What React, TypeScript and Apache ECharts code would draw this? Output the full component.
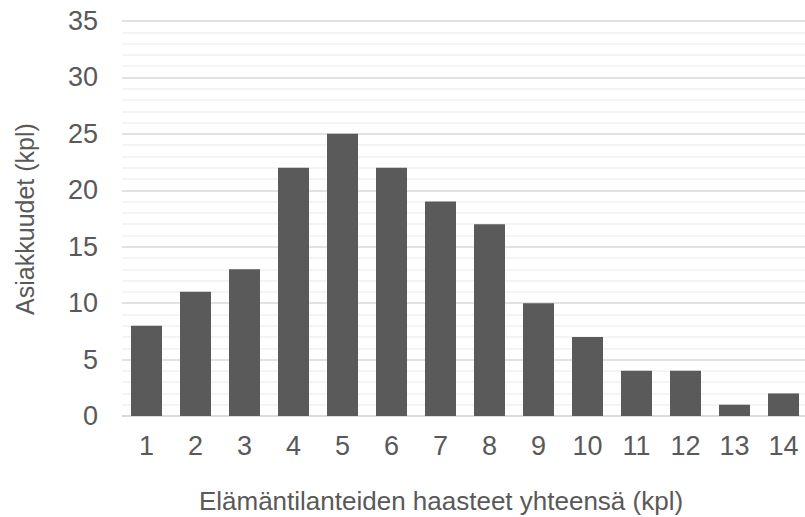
import React, { useEffect, useRef } from "react";
import * as echarts from "echarts";

const categories = ["1", "2", "3", "4", "5", "6", "7", "8", "9", "10", "11", "12", "13", "14"];
const values = [8, 11, 13, 22, 25, 22, 19, 17, 10, 7, 4, 4, 1, 2];
const yTitle = "Asiakkuudet (kpl)";
const xTitle = "Elämäntilanteiden haasteet yhteensä (kpl)";

const FONT = "'Liberation Sans', Arial, sans-serif";
const TEXT = "#595959";

export default function App() {
  const ref = useRef<HTMLDivElement>(null);
  useEffect(() => {
    if (!ref.current) return;
    const chart = echarts.init(ref.current, undefined, { renderer: "svg" });
    chart.setOption({
      animation: false,
      backgroundColor: "#ffffff",
      grid: { left: 122, top: 21, width: 686, height: 395, containLabel: false, outerBoundsMode: "none" },
      xAxis: {
        type: "category",
        data: categories,
        axisTick: { show: false },
        axisLine: { lineStyle: { color: "#d9d9d9", width: 1.5 } },
        axisLabel: { color: TEXT, fontSize: 27, fontFamily: FONT, margin: 16 },
      },
      yAxis: {
        type: "value",
        min: 0,
        max: 35,
        interval: 5,
        axisLine: { show: false },
        axisTick: { show: false },
        axisLabel: { color: TEXT, fontSize: 27, fontFamily: FONT, margin: 24 },
        splitLine: { lineStyle: { color: "#d9d9d9", width: 1.5 } },
        minorTick: { show: false, splitNumber: 5 },
        minorSplitLine: { show: true, lineStyle: { color: "#f0f0f0", width: 1.5 } },
      },
      series: [
        {
          type: "bar",
          data: values,
          barWidth: 31,
          itemStyle: { color: "#5a5a5a" },
        },
      ],
      graphic: [
        {
          type: "text",
          x: 441,
          y: 501,
          style: {
            text: xTitle,
            fill: TEXT,
            fontSize: 26,
            fontFamily: FONT,
            align: "center",
            verticalAlign: "middle",
          },
        },
        {
          type: "text",
          x: 25,
          y: 219,
          rotation: Math.PI / 2,
          style: {
            text: yTitle,
            fill: TEXT,
            fontSize: 25,
            fontFamily: FONT,
            align: "center",
            verticalAlign: "middle",
          },
        },
      ],
    });
    return () => chart.dispose();
  }, []);
  return (
    <div
      ref={ref}
      style={{ position: "absolute", left: 0, top: 0, width: 805, height: 517 }}
    />
  );
}
